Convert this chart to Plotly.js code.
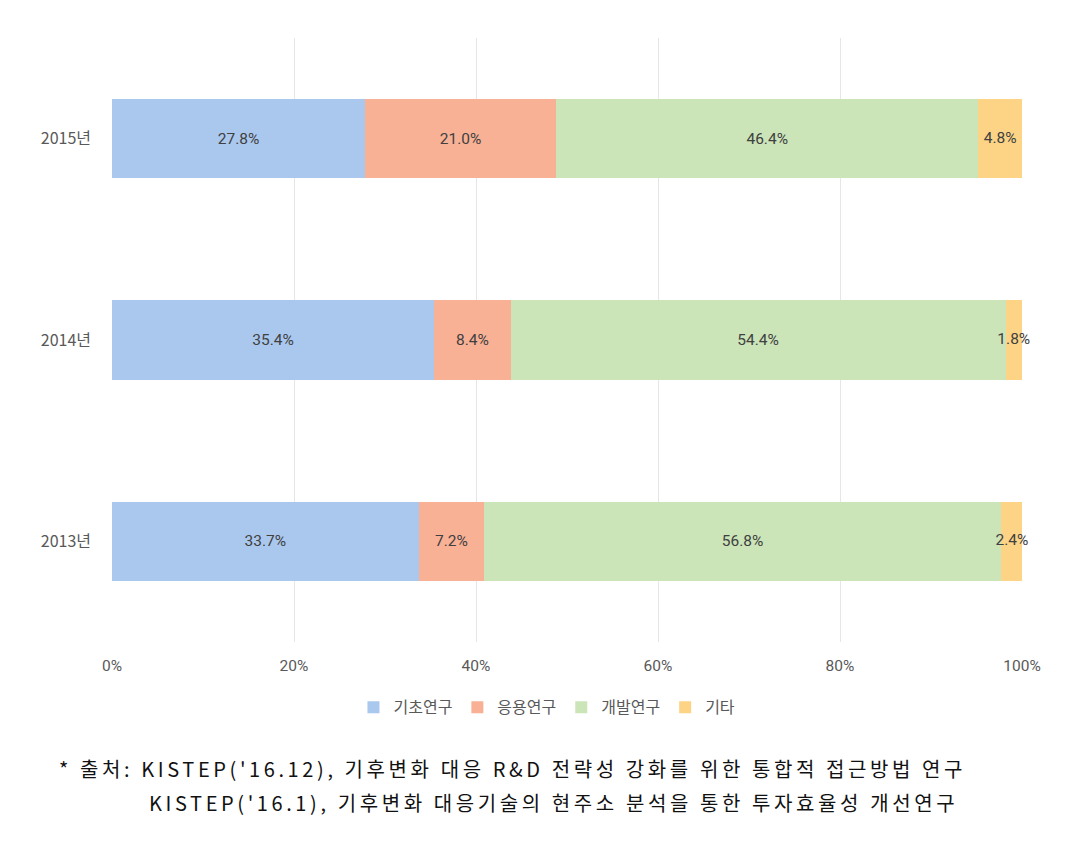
<!DOCTYPE html>
<html>
<head>
<meta charset="utf-8">
<script src="https://cdn.plot.ly/plotly-3.0.1.min.js"></script>
<style>
html,body{margin:0;padding:0;background:#fff;}
#chart{width:1076px;height:842px;}
.annotation-text{letter-spacing:3.6px;}
</style>
</head>
<body>
<div id="chart"></div>
<script>
const years = ['2013년', '2014년', '2015년'];
const seriesNames = ['기초연구', '응용연구', '개발연구', '기타'];
const basicResearch = [33.7, 35.4, 27.8];
const appliedResearch = [7.2, 8.4, 21.0];
const developmentResearch = [56.8, 54.4, 46.4];
const others = [2.4, 1.8, 4.8];
const xTickVals = [0, 20, 40, 60, 80, 100];
const xTickText = ['0%', '20%', '40%', '60%', '80%', '100%'];
const noteLine1 = '* 출처: KISTEP(\'16.12), 기후변화 대응 R&D 전략성 강화를 위한 통합적 접근방법 연구';
const noteLine2 = 'KISTEP(\'16.1), 기후변화 대응기술의 현주소 분석을 통한 투자효율성 개선연구';

const colors = ['#aac8ee', '#f9b196', '#cbe5b9', '#fdd486'];
const values = [basicResearch, appliedResearch, developmentResearch, others];
const labelFont = {family: 'Roboto, "Noto Sans CJK KR", sans-serif', size: 15.5, color: '#404040'};

const traces = values.map((v, i) => ({
  type: 'bar',
  orientation: 'h',
  name: seriesNames[i],
  y: years,
  x: v,
  text: i < 3 ? v.map(n => n.toFixed(1) + '%') : v.map(() => ''),
  textposition: 'inside',
  insidetextanchor: 'middle',
  constraintext: 'none',
  textangle: 0,
  cliponaxis: false,
  textfont: labelFont,
  marker: {color: colors[i], line: {width: 0}},
  width: 0.393,
  hoverinfo: 'none'
}));

// labels for the thin last segment, centred on the segment even if wider than it
const othersStart = years.map((_, k) => basicResearch[k] + appliedResearch[k] + developmentResearch[k]);
traces.push({
  type: 'scatter',
  mode: 'text',
  x: others.map((v, k) => othersStart[k] + v / 2),
  y: years,
  text: others.map(n => n.toFixed(1) + '%'),
  textposition: 'middle center',
  textfont: labelFont,
  showlegend: false,
  cliponaxis: false,
  hoverinfo: 'none'
});

const layout = {
  width: 1076,
  height: 842,
  barmode: 'stack',
  paper_bgcolor: '#ffffff',
  plot_bgcolor: '#ffffff',
  margin: {l: 112, r: 54, t: 38, b: 200},
  font: {family: '"Noto Sans CJK KR", "Noto Sans", sans-serif', color: '#595959'},
  xaxis: {
    range: [0, 100],
    tickvals: xTickVals,
    ticktext: xTickText,
    showgrid: true,
    gridcolor: '#e6e6e6',
    gridwidth: 1,
    zeroline: false,
    showline: false,
    ticks: '',
    ticklabelstandoff: 12,
    tickfont: {family: 'Roboto, sans-serif', size: 15.5, color: '#595959'},
    fixedrange: true
  },
  yaxis: {
    categoryorder: 'array',
    categoryarray: years,
    range: [-0.5, 2.5],
    showgrid: false,
    zeroline: false,
    showline: false,
    ticks: '',
    ticklabelstandoff: 20,
    tickfont: {family: '"Noto Sans CJK KR", sans-serif', size: 16, color: '#595959'},
    fixedrange: true
  },
  showlegend: true,
  legend: {
    orientation: 'h',
    x: 0.478,
    xanchor: 'center',
    y: -0.108,
    yanchor: 'middle',
    font: {family: '"Noto Sans CJK KR", sans-serif', size: 16, color: '#595959'},
    itemwidth: 30,
    traceorder: 'normal'
  },
  annotations: [
    {
      xref: 'paper', yref: 'paper',
      x: (57 - 112) / 910, y: (642 - 768) / 604,
      xanchor: 'left', yanchor: 'middle',
      text: noteLine1,
      showarrow: false,
      font: {family: '"Noto Sans CJK KR", sans-serif', size: 20, color: '#111111'}
    },
    {
      xref: 'paper', yref: 'paper',
      x: (147 - 112) / 910, y: (642 - 802) / 604,
      xanchor: 'left', yanchor: 'middle',
      text: noteLine2,
      showarrow: false,
      font: {family: '"Noto Sans CJK KR", sans-serif', size: 20, color: '#111111'}
    }
  ]
};

Plotly.newPlot('chart', traces, layout, {displayModeBar: false, staticPlot: true});
</script>
</body>
</html>
